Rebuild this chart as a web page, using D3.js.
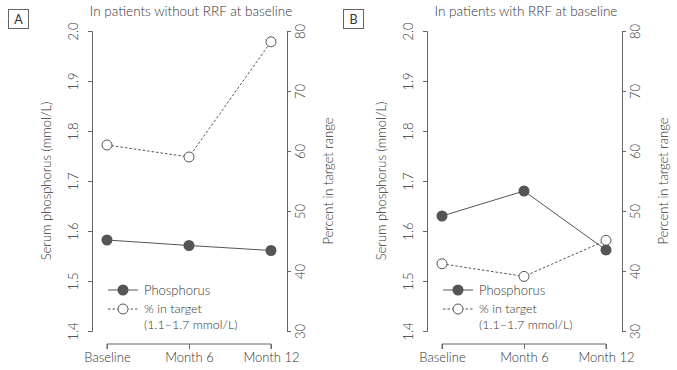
<!DOCTYPE html>
<meta charset="utf-8">
<style>
    body { margin: 0; background: #fff; }
    text { font-family: Lato, "Open Sans", sans-serif; font-weight: 300; fill: #333; }
    .axis path, .axis line { stroke: #666; }
    .axis text { font-size: 13px; fill: #333; }
</style>
<body>
<script src="https://cdn.jsdelivr.net/npm/d3@7"></script>
<script>
    var width = 677
    var height = 370

    var timepoints = ['Baseline', 'Month 6', 'Month 12']
    var panelLetters = ['A', 'B']
    var panelTitles = ['In patients without RRF at baseline', 'In patients with RRF at baseline']
    var phosphorusA = [1.582, 1.571, 1.561]
    var phosphorusB = [1.63, 1.68, 1.562]
    var targetA = [61.0, 59.0, 78.2]
    var targetB = [41.2, 39.1, 45.1]
    var leftTicks = [1.4, 1.5, 1.6, 1.7, 1.8, 1.9, 2.0]
    var rightTicks = [30, 40, 50, 60, 70, 80]

    var panels = [
        { letter: panelLetters[0], title: panelTitles[0], phos: phosphorusA, pct: targetA },
        { letter: panelLetters[1], title: panelTitles[1], phos: phosphorusB, pct: targetB }
    ]

    var svg = d3.select('body').append('svg')
        .attr('width', width)
        .attr('height', height)

    var grey = '#555'

    panels.forEach(function (p, i) {
        var g = svg.append('g').attr('transform', 'translate(' + (i * 335) + ',0)')

        var x = d3.scalePoint().domain(timepoints).range([107, 271])
        var yL = d3.scaleLinear().domain([1.4, 2.0]).range([331, 31])
        var yR = d3.scaleLinear().domain([30, 80]).range([331, 31])

        // panel letter box
        g.append('rect')
            .attr('x', 8.5).attr('y', 9.5).attr('width', 20).attr('height', 19)
            .attr('fill', 'none').attr('stroke', '#666')
        g.append('text')
            .attr('x', 18.5).attr('y', 23.5)
            .attr('text-anchor', 'middle')
            .style('font-size', '12.5px')
            .style('font-weight', 400)
            .text(p.letter)

        g.append('text')
            .attr('x', 191).attr('y', 16)
            .attr('text-anchor', 'middle')
            .style('font-size', '13.5px')
            .text(p.title)

        // left axis
        var ax = g.append('g').attr('class', 'axis')
            .attr('transform', 'translate(92,0)')
            .call(d3.axisLeft(yL).tickValues(leftTicks).tickFormat(d3.format('.1f')).tickSizeOuter(0).tickSize(4))
        ax.selectAll('.tick text')
            .attr('transform', 'rotate(-90)')
            .attr('x', 0).attr('y', -14)
            .attr('dy', 0)
            .attr('text-anchor', 'middle')

        // right axis
        var ar = g.append('g').attr('class', 'axis')
            .attr('transform', 'translate(287,0)')
            .call(d3.axisRight(yR).tickValues(rightTicks).tickSizeOuter(0).tickSize(4))
        ar.selectAll('.tick text')
            .attr('transform', 'rotate(-90)')
            .attr('x', 0).attr('y', 18)
            .attr('dy', 0)
            .attr('text-anchor', 'middle')

        // bottom axis
        var ab = g.append('g').attr('class', 'axis')
            .attr('transform', 'translate(0,344)')
            .call(d3.axisBottom(x).tickSizeOuter(0).tickSize(5))
        ab.select('.domain').attr('d', 'M' + x(timepoints[0]) + ',5V0H' + x(timepoints[2]) + 'V5')
        ab.selectAll('.tick text').attr('y', 9).attr('dy', '0.71em')

        // axis titles
        g.append('text')
            .attr('transform', 'translate(51,181) rotate(-90)')
            .attr('text-anchor', 'middle')
            .style('font-size', '13px')
            .text('Serum phosphorus (mmol/L)')
        g.append('text')
            .attr('transform', 'translate(333,181) rotate(-90)')
            .attr('text-anchor', 'middle')
            .style('font-size', '13px')
            .text('Percent in target range')

        // % in target series
        var linePct = d3.line()
            .x(function (d, j) { return x(timepoints[j]) })
            .y(function (d) { return yR(d) })
        g.append('path')
            .datum(p.pct)
            .attr('d', linePct)
            .attr('fill', 'none')
            .attr('stroke', grey)
            .attr('stroke-width', 1)
            .attr('stroke-dasharray', '2.5,2')

        // phosphorus series
        var linePhos = d3.line()
            .x(function (d, j) { return x(timepoints[j]) })
            .y(function (d) { return yL(d) })
        g.append('path')
            .datum(p.phos)
            .attr('d', linePhos)
            .attr('fill', 'none')
            .attr('stroke', grey)
            .attr('stroke-width', 1)

        g.selectAll('.pct')
            .data(p.pct)
            .enter().append('circle')
            .attr('cx', function (d, j) { return x(timepoints[j]) })
            .attr('cy', function (d) { return yR(d) })
            .attr('r', 5)
            .attr('fill', '#fff')
            .attr('stroke', grey)

        g.selectAll('.phos')
            .data(p.phos)
            .enter().append('circle')
            .attr('cx', function (d, j) { return x(timepoints[j]) })
            .attr('cy', function (d) { return yL(d) })
            .attr('r', 5.5)
            .attr('fill', grey)

        // legend
        var lg = g.append('g').attr('transform', 'translate(108,290)')
        lg.append('line').attr('x1', 0).attr('x2', 30).attr('y1', 0).attr('y2', 0)
            .attr('stroke', grey)
        lg.append('circle').attr('cx', 15).attr('cy', 0).attr('r', 5.5).attr('fill', grey)
        lg.append('text').attr('x', 36).attr('y', 4.5).style('font-size', '13px').text('Phosphorus')

        lg.append('line').attr('x1', 0).attr('x2', 30).attr('y1', 19).attr('y2', 19)
            .attr('stroke', grey).attr('stroke-dasharray', '2.5,2')
        lg.append('circle').attr('cx', 15).attr('cy', 19).attr('r', 5).attr('fill', '#fff').attr('stroke', grey)
        lg.append('text').attr('x', 36).attr('y', 23).style('font-size', '12.5px').text('% in target')
        lg.append('text').attr('x', 36).attr('y', 38.5).style('font-size', '12.5px').text('(1.1\u20131.7 mmol/L)')
    })
</script>
</body>
